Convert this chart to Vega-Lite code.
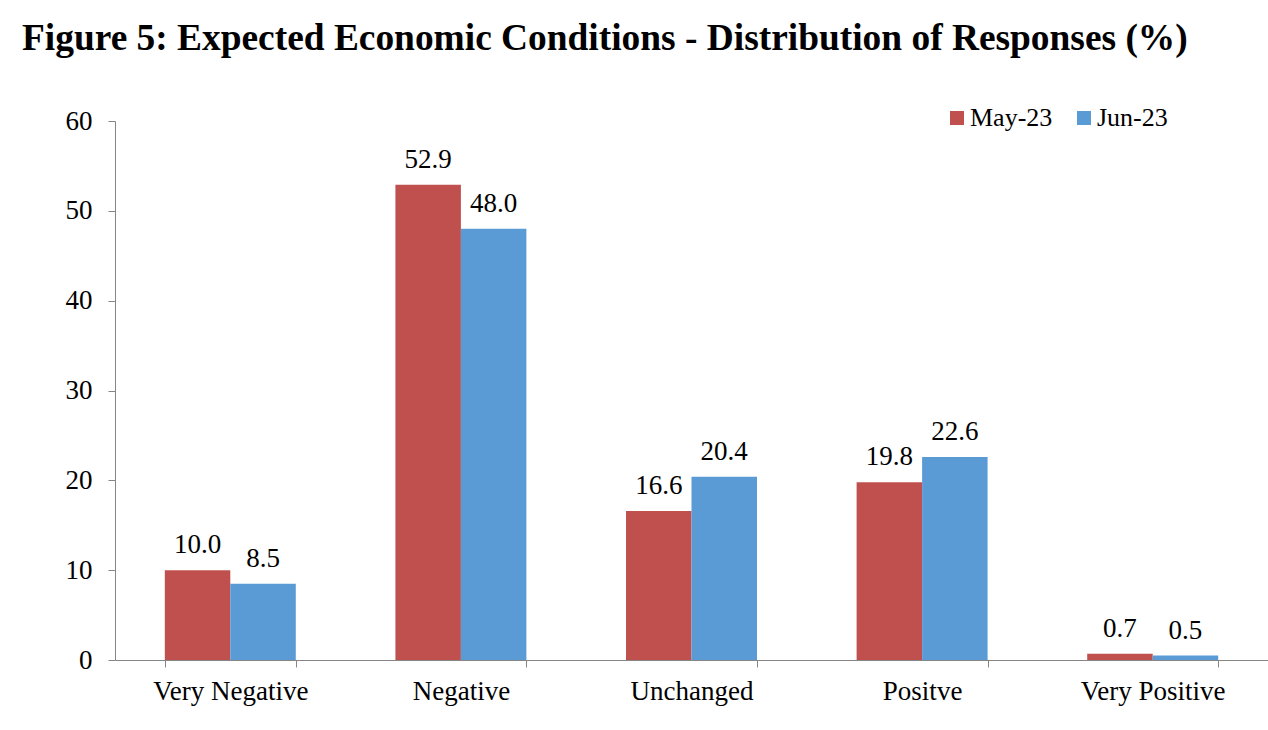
{
  "$schema": "https://vega.github.io/schema/vega-lite/v6.json",
  "width": 1153,
  "height": 539,
  "autosize": "none",
  "padding": {"left": 115, "top": 121, "right": 0, "bottom": 70},
  "background": "white",
  "title": {
    "text": "Figure 5: Expected Economic Conditions - Distribution of Responses (%)",
    "anchor": "start",
    "frame": "group",
    "font": "Liberation Serif",
    "fontSize": 37.4,
    "fontWeight": "bold",
    "color": "black",
    "baseline": "alphabetic",
    "dx": -93,
    "offset": 18
  },
  "config": {
    "view": {"stroke": null},
    "font": "Liberation Serif",
    "text": {"font": "Liberation Serif"}
  },
  "data": {
    "values": [
      {"category": "Very Negative", "series": "May-23", "value": 10.0},
      {"category": "Very Negative", "series": "Jun-23", "value": 8.5},
      {"category": "Negative", "series": "May-23", "value": 52.9},
      {"category": "Negative", "series": "Jun-23", "value": 48.0},
      {"category": "Unchanged", "series": "May-23", "value": 16.6},
      {"category": "Unchanged", "series": "Jun-23", "value": 20.4},
      {"category": "Positve", "series": "May-23", "value": 19.8},
      {"category": "Positve", "series": "Jun-23", "value": 22.6},
      {"category": "Very Positive", "series": "May-23", "value": 0.7},
      {"category": "Very Positive", "series": "Jun-23", "value": 0.5}
    ]
  },
  "encoding": {
    "x": {
      "field": "category",
      "type": "nominal",
      "sort": ["Very Negative", "Negative", "Unchanged", "Positve", "Very Positive"],
      "scale": {"paddingInner": 0.432, "paddingOuter": 0.216},
      "axis": {
        "title": null,
        "labelAngle": 0,
        "tickBand": "extent",
        "tickSize": 7,
        "tickColor": "#868686",
        "domainColor": "#868686",
        "labelFont": "Liberation Serif",
        "labelFontSize": 27,
        "labelColor": "black",
        "labelPadding": 11,
        "grid": false
      }
    },
    "xOffset": {
      "field": "series",
      "type": "nominal",
      "sort": ["May-23", "Jun-23"],
      "scale": {"paddingInner": 0, "paddingOuter": 0}
    },
    "y": {
      "field": "value",
      "type": "quantitative",
      "scale": {"domain": [0, 60], "nice": false},
      "axis": {
        "title": null,
        "values": [0, 10, 20, 30, 40, 50, 60],
        "format": "d",
        "tickSize": 7,
        "tickColor": "#868686",
        "domainColor": "#868686",
        "labelFont": "Liberation Serif",
        "labelFontSize": 27,
        "labelColor": "black",
        "labelPadding": 16,
        "grid": false
      }
    }
  },
  "layer": [
    {
      "mark": {"type": "bar"},
      "encoding": {
        "color": {
          "field": "series",
          "type": "nominal",
          "sort": ["May-23", "Jun-23"],
          "scale": {"domain": ["May-23", "Jun-23"], "range": ["#C0504D", "#5B9BD5"]},
          "legend": {
            "title": null,
            "orient": "none",
            "direction": "horizontal",
            "legendX": 829,
            "legendY": -16,
            "symbolType": "square",
            "symbolSize": 196,
            "symbolStrokeWidth": 0,
            "labelFont": "Liberation Serif",
            "labelFontSize": 26,
            "labelColor": "black",
            "labelOffset": 0,
            "columnPadding": 18,
            "padding": 0
          }
        }
      }
    },
    {
      "mark": {
        "type": "text",
        "baseline": "alphabetic",
        "dy": -17,
        "font": "Liberation Serif",
        "fontSize": 27,
        "color": "black"
      },
      "encoding": {
        "text": {"field": "value", "type": "quantitative", "format": ".1f"}
      }
    }
  ]
}
